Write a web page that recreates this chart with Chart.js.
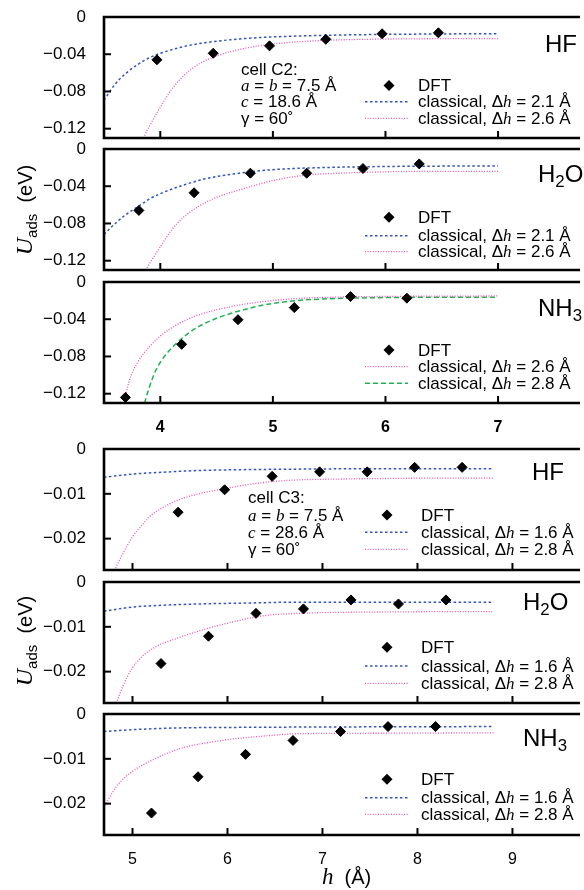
<!DOCTYPE html>
<html>
<head>
<meta charset="utf-8">
<script src="https://cdn.jsdelivr.net/npm/chart.js@4.4.1/dist/chart.umd.min.js"></script>
<style>
  body { margin: 0; background: #fff; }
  #fig { position: relative; width: 584px; height: 890px; overflow: hidden;
         font-family: "Liberation Sans", Arial, Helvetica, sans-serif; color: #000; }
  #fig canvas { position: absolute; left: 0; }
  .t { position: absolute; white-space: nowrap; line-height: 1; }
  .m { font-family: "Liberation Serif", "Times New Roman", serif; font-style: italic; }
  .sub { font-size: 0.7em; position: relative; top: 0.32em; }
</style>
</head>
<body>
<div id="fig"></div>
<script>
// axis ranges and ticks
const xRangeC2 = [3.5, 7.71];
const xRangeC3 = [4.7, 9.69];
const yRangeC2 = [-0.13, 0];
const yRangeC3 = [-0.027, 0];
const xTicksC2 = [4, 5, 6, 7];
const xTicksC3 = [5, 6, 7, 8, 9];
const yTicksC2 = [0, -0.04, -0.08, -0.12];
const yTicksC3 = [0, -0.01, -0.02];

// cell C2 -- DFT points
const hDftHF_C2 = [3.97, 4.47, 4.97, 5.47, 5.97, 6.47];
const uDftHF_C2 = [-0.046, -0.039, -0.031, -0.024, -0.018, -0.017];
const hDftH2O_C2 = [3.81, 4.30, 4.80, 5.30, 5.80, 6.30];
const uDftH2O_C2 = [-0.066, -0.047, -0.026, -0.026, -0.021, -0.016];
const hDftNH3_C2 = [3.69, 4.19, 4.69, 5.19, 5.69, 6.19];
const uDftNH3_C2 = [-0.124, -0.067, -0.0405, -0.0275, -0.0156, -0.0174];

// cell C2 -- classical curves
const hHF_C2_21 = [3.5, 3.6, 3.7, 3.8, 3.9, 4.0, 4.2, 4.4, 4.7, 5.0, 5.5, 6.0, 6.5, 7.0];
const uHF_C2_21 = [-0.0894, -0.072, -0.060, -0.051, -0.044, -0.039, -0.032, -0.0276, -0.0236, -0.0214, -0.0196, -0.0187, -0.0182, -0.018];
const hHF_C2_26 = [3.85, 3.9, 4.0, 4.1, 4.2, 4.35, 4.5, 4.7, 5.0, 5.5, 6.0, 6.5, 7.0];
const uHF_C2_26 = [-0.130, -0.118, -0.097, -0.078, -0.064, -0.050, -0.042, -0.035, -0.029, -0.025, -0.0237, -0.0233, -0.0232];
const hH2O_C2_21 = [3.5, 3.6, 3.7, 3.8, 3.9, 4.0, 4.2, 4.4, 4.7, 5.0, 5.5, 6.0, 6.5, 7.0];
const uH2O_C2_21 = [-0.0917, -0.080, -0.070, -0.062, -0.054, -0.048, -0.039, -0.032, -0.026, -0.0222, -0.0198, -0.0188, -0.0184, -0.0182];
const hH2O_C2_26 = [3.87, 3.9, 4.0, 4.1, 4.2, 4.35, 4.5, 4.7, 5.0, 5.3, 5.6, 6.0, 6.5, 7.0];
const uH2O_C2_26 = [-0.130, -0.124, -0.105, -0.087, -0.074, -0.061, -0.052, -0.044, -0.034, -0.028, -0.026, -0.0245, -0.024, -0.024];
const hNH3_C2_26 = [3.68, 3.72, 3.76, 3.8, 3.85, 3.9, 4.0, 4.17, 4.34, 4.63, 4.92, 5.21, 5.6, 6.0, 6.5, 7.0];
const uNH3_C2_26 = [-0.130, -0.108, -0.095, -0.086, -0.077, -0.070, -0.058, -0.0444, -0.0354, -0.0264, -0.021, -0.0178, -0.0162, -0.0155, -0.0152, -0.015];
const hNH3_C2_28 = [3.86, 3.9, 3.96, 4.03, 4.11, 4.19, 4.34, 4.5, 4.63, 4.8, 4.92, 5.21, 5.5, 6.0, 6.5, 7.0];
const uNH3_C2_28 = [-0.130, -0.114, -0.095, -0.081, -0.0698, -0.0607, -0.048, -0.039, -0.0336, -0.028, -0.0246, -0.020, -0.018, -0.0167, -0.0164, -0.0163];

// cell C3 -- DFT points
const hDftHF_C3 = [5.48, 5.97, 6.47, 6.97, 7.47, 7.97, 8.47];
const uDftHF_C3 = [-0.0141, -0.0091, -0.0061, -0.0051, -0.0051, -0.0041, -0.0041];
const hDftH2O_C3 = [5.30, 5.80, 6.30, 6.80, 7.30, 7.80, 8.30];
const uDftH2O_C3 = [-0.0182, -0.0121, -0.0070, -0.0060, -0.0040, -0.0049, -0.0040];
const hDftNH3_C3 = [5.20, 5.69, 6.19, 6.69, 7.19, 7.69, 8.19];
const uDftNH3_C3 = [-0.0221, -0.0140, -0.0090, -0.0059, -0.0039, -0.0028, -0.0028];

// cell C3 -- classical curves
const hHF_C3_16 = [4.7, 5.0, 5.3, 5.7, 6.2, 6.7, 7.5, 8.8];
const uHF_C3_16 = [-0.0063, -0.0056, -0.0052, -0.0048, -0.0046, -0.0045, -0.0044, -0.0044];
const hHF_C3_28 = [4.81, 4.9, 5.0, 5.1, 5.18, 5.3, 5.49, 5.7, 5.98, 6.2, 6.46, 6.74, 7.2, 7.57, 8.2, 8.8];
const uHF_C3_28 = [-0.0271, -0.0233, -0.0196, -0.0170, -0.0151, -0.0133, -0.0113, -0.0100, -0.0088, -0.0080, -0.0073, -0.0069, -0.0067, -0.0066, -0.0065, -0.0065];
const hH2O_C3_16 = [4.7, 5.0, 5.3, 5.7, 6.2, 6.74, 7.5, 8.8];
const uH2O_C3_16 = [-0.0065, -0.0056, -0.0052, -0.0049, -0.0047, -0.0045, -0.0045, -0.0045];
const hH2O_C3_28 = [4.83, 4.9, 5.0, 5.18, 5.49, 5.98, 6.39, 6.74, 7.57, 8.8];
const uH2O_C3_28 = [-0.027, -0.0232, -0.0191, -0.0153, -0.0124, -0.0093, -0.0075, -0.0070, -0.0067, -0.0066];
const hNH3_C3_16 = [4.7, 5.0, 5.5, 6.0, 7.0, 8.8];
const uNH3_C3_16 = [-0.0039, -0.0035, -0.0031, -0.0030, -0.0029, -0.0028];
const hNH3_C3_28 = [4.71, 4.83, 5.0, 5.18, 5.49, 5.98, 6.39, 6.74, 7.5, 8.8];
const uNH3_C3_28 = [-0.0204, -0.0162, -0.0128, -0.0106, -0.0078, -0.0058, -0.0049, -0.0044, -0.0043, -0.0042];

const W = 584, PAD_TOP = 12, PANEL_H = 121, AXIS_W = 104;
const SANS = '"Liberation Sans", Arial, Helvetica, sans-serif';
const BLUE = 'rgb(52, 84, 186)', PINK = 'rgb(232, 84, 180)', GREEN = 'rgb(34, 178, 84)';
const LINE = {
  blue: { color: BLUE, dash: [2.5, 2.5], width: 1.5 },
  pink: { color: PINK, dash: [1, 1.6], width: 1.3 },
  green: { color: GREEN, dash: [5, 3], width: 1.5 },
};
const KEY_FONT = 17;

const fig = document.getElementById('fig');

function pts(h, u) {
  return h.map((x, i) => ({ x: x, y: u[i] }));
}

function fmtTick(v) {
  return v === 0 ? '0' : '\u2212' + Math.abs(v).toFixed(2);
}

function text(html, x, y, size, cls) {
  const d = document.createElement('div');
  d.className = 't' + (cls ? ' ' + cls : '');
  d.style.left = x + 'px';
  d.style.top = (y - size * 0.5) + 'px';
  d.style.fontSize = size + 'px';
  d.innerHTML = html;
  fig.appendChild(d);
  return d;
}

// frame with inward tick marks (no right border, the plot runs off the page)
const framePlugin = {
  id: 'frame',
  afterDraw(chart) {
    const { ctx, chartArea: a, scales: { x, y } } = chart;
    ctx.save();
    ctx.strokeStyle = '#000';
    ctx.lineWidth = 2;
    x.ticks.forEach(t => {
      const px = x.getPixelForValue(t.value);
      ctx.beginPath();
      ctx.moveTo(px, a.bottom);
      ctx.lineTo(px, a.bottom - 7);
      ctx.stroke();
    });
    y.ticks.forEach(t => {
      if (t.value === 0) return;
      const py = y.getPixelForValue(t.value);
      ctx.beginPath();
      ctx.moveTo(a.left, py);
      ctx.lineTo(a.left + 7, py);
      ctx.stroke();
    });
    ctx.lineWidth = 2.6;
    ctx.beginPath();
    ctx.moveTo(a.right + 2, a.top);
    ctx.lineTo(a.left, a.top);
    ctx.lineTo(a.left, a.bottom);
    ctx.lineTo(a.right + 2, a.bottom);
    ctx.stroke();
    ctx.restore();
  }
};

// legend symbols, one row per dataset
const keyPlugin = {
  id: 'keys',
  afterDraw(chart, args, opts) {
    const ctx = chart.ctx;
    chart.data.datasets.forEach((ds, i) => {
      const y = opts.rows[i];
      ctx.save();
      if (ds.showLine === false) {
        const r = ds.pointRadius + 0.5;
        ctx.fillStyle = ds.backgroundColor;
        ctx.beginPath();
        ctx.moveTo(opts.xd - r, y);
        ctx.lineTo(opts.xd, y - r);
        ctx.lineTo(opts.xd + r, y);
        ctx.lineTo(opts.xd, y + r);
        ctx.closePath();
        ctx.fill();
      } else {
        ctx.strokeStyle = ds.borderColor;
        ctx.lineWidth = ds.borderWidth;
        ctx.setLineDash(ds.borderDash);
        ctx.beginPath();
        ctx.moveTo(opts.x0, y);
        ctx.lineTo(opts.x1, y);
        ctx.stroke();
      }
      ctx.restore();
    });
  }
};

function makePanel(p) {
  const bottom = p.showX ? 44 : 12;
  const canvasTop = p.top - PAD_TOP;
  const canvas = document.createElement('canvas');
  canvas.width = W;
  canvas.height = PAD_TOP + PANEL_H + bottom;
  canvas.style.top = canvasTop + 'px';
  fig.appendChild(canvas);

  const datasets = [{
    data: pts(p.dftH, p.dftU),
    showLine: false,
    pointStyle: 'rectRot',
    pointRadius: 5,
    pointBorderWidth: 1,
    backgroundColor: '#000',
    borderColor: '#000',
  }];
  p.curves.forEach(c => {
    const s = LINE[c.style];
    datasets.push({
      data: pts(c.h, c.u),
      borderColor: s.color,
      borderWidth: s.width,
      borderDash: s.dash,
      pointRadius: 0,
      cubicInterpolationMode: 'monotone',
      fill: false,
      clip: 0,
    });
  });

  new Chart(canvas, {
    type: 'line',
    data: { datasets: datasets },
    options: {
      responsive: false,
      animation: false,
      events: [],
      layout: { padding: { top: PAD_TOP, left: 0, right: 0, bottom: 0 } },
      plugins: {
        legend: { display: false },
        tooltip: { enabled: false },
        keys: {
          xd: p.key.xd, x0: p.key.x0, x1: p.key.x1,
          rows: p.key.rows.map(r => r - canvasTop),
        },
      },
      scales: {
        x: {
          type: 'linear',
          min: p.xRange[0], max: p.xRange[1],
          grid: { display: false },
          border: { display: false },
          afterBuildTicks: s => { s.ticks = p.xTicks.map(v => ({ value: v })); },
          afterFit: s => { s.height = bottom; s.paddingLeft = 0; s.paddingRight = 0; },
          ticks: {
            display: p.showX,
            padding: 7,
            color: '#000',
            font: { family: SANS, size: 16, weight: p.boldX ? 'bold' : 'normal' },
          },
        },
        y: {
          min: p.yRange[0], max: p.yRange[1],
          grid: { display: false },
          border: { display: false },
          afterBuildTicks: s => { s.ticks = p.yTicks.map(v => ({ value: v })); },
          afterFit: s => { s.width = AXIS_W; s.paddingTop = 0; s.paddingBottom = 0; },
          ticks: {
            padding: 10,
            color: '#000',
            font: { family: SANS, size: 17 },
            callback: fmtTick,
          },
        },
      },
    },
    plugins: [framePlugin, keyPlugin],
  });

  // legend labels
  const dh = '\u0394<span class="m">h</span>';
  text('DFT', p.key.tx, p.key.rows[0], KEY_FONT);
  p.curves.forEach((c, i) => {
    text('classical, ' + dh + ' = ' + c.dh + ' \u00c5', p.key.tx, p.key.rows[i + 1], KEY_FONT);
  });
  text(p.name, p.nameX, p.nameY, 24);
}

const keyC2 = { xd: 389, x0: 365, x1: 408, tx: 418 };
const keyC3 = { xd: 387, x0: 365, x1: 409, tx: 421 };

const panels = [
  { top: 17, name: 'HF', nameX: 545, nameY: 44, dftH: hDftHF_C2, dftU: uDftHF_C2,
    curves: [{ h: hHF_C2_21, u: uHF_C2_21, style: 'blue', dh: '2.1' },
             { h: hHF_C2_26, u: uHF_C2_26, style: 'pink', dh: '2.6' }],
    key: Object.assign({ rows: [85.5, 101.7, 118.3] }, keyC2) },
  { top: 149, name: 'H<span class="sub">2</span>O', nameX: 538, nameY: 174, dftH: hDftH2O_C2, dftU: uDftH2O_C2,
    curves: [{ h: hH2O_C2_21, u: uH2O_C2_21, style: 'blue', dh: '2.1' },
             { h: hH2O_C2_26, u: uH2O_C2_26, style: 'pink', dh: '2.6' }],
    key: Object.assign({ rows: [217.3, 235.7, 251.7] }, keyC2) },
  { top: 282, name: 'NH<span class="sub">3</span>', nameX: 538, nameY: 307.5, dftH: hDftNH3_C2, dftU: uDftNH3_C2,
    curves: [{ h: hNH3_C2_26, u: uNH3_C2_26, style: 'pink', dh: '2.6' },
             { h: hNH3_C2_28, u: uNH3_C2_28, style: 'green', dh: '2.8' }],
    key: Object.assign({ rows: [350, 366.7, 383.3] }, keyC2), showX: true, boldX: true },
  { top: 449, name: 'HF', nameX: 532, nameY: 472, dftH: hDftHF_C3, dftU: uDftHF_C3,
    curves: [{ h: hHF_C3_16, u: uHF_C3_16, style: 'blue', dh: '1.6' },
             { h: hHF_C3_28, u: uHF_C3_28, style: 'pink', dh: '2.8' }],
    key: Object.assign({ rows: [515, 532.3, 549.3] }, keyC3) },
  { top: 582, name: 'H<span class="sub">2</span>O', nameX: 523, nameY: 602, dftH: hDftH2O_C3, dftU: uDftH2O_C3,
    curves: [{ h: hH2O_C3_16, u: uH2O_C3_16, style: 'blue', dh: '1.6' },
             { h: hH2O_C3_28, u: uH2O_C3_28, style: 'pink', dh: '2.8' }],
    key: Object.assign({ rows: [647.3, 666, 683.3] }, keyC3) },
  { top: 714, name: 'NH<span class="sub">3</span>', nameX: 523, nameY: 738, dftH: hDftNH3_C3, dftU: uDftNH3_C3,
    curves: [{ h: hNH3_C3_16, u: uNH3_C3_16, style: 'blue', dh: '1.6' },
             { h: hNH3_C3_28, u: uNH3_C3_28, style: 'pink', dh: '2.8' }],
    key: Object.assign({ rows: [779.3, 797.7, 814.3] }, keyC3), showX: true },
];

panels.forEach((p, i) => {
  const c2 = i < 3;
  p.xRange = c2 ? xRangeC2 : xRangeC3;
  p.yRange = c2 ? yRangeC2 : yRangeC3;
  p.xTicks = c2 ? xTicksC2 : xTicksC3;
  p.yTicks = c2 ? yTicksC2 : yTicksC3;
  makePanel(p);
});

// cell annotations
const ab = '<span class="m">a</span> = <span class="m">b</span> = 7.5 \u00c5';
text('cell C2:', 241, 69, KEY_FONT);
text(ab, 241, 85.5, KEY_FONT);
text('<span class="m">c</span> = 18.6 \u00c5', 241, 101.7, KEY_FONT);
text('\u03b3 = 60\u02da', 241, 118.3, KEY_FONT);
text('cell C3:', 248, 497.3, KEY_FONT);
text(ab, 248, 515, KEY_FONT);
text('<span class="m">c</span> = 28.6 \u00c5', 248, 532.3, KEY_FONT);
text('\u03b3 = 60\u02da', 248, 549.3, KEY_FONT);

// axis titles
const yTitle = '<span class="m" style="font-size:24px">U</span><span class="sub" style="font-size:15px">ads</span>&nbsp;&nbsp;(eV)';
[208, 639].forEach(cy => {
  const d = text(yTitle, 24, cy, 20);
  d.style.transform = 'translate(-50%, 0) rotate(-90deg)';
  d.style.transformOrigin = '50% 50%';
});
text('<span class="m" style="font-size:23px">h</span>&nbsp;&nbsp;(\u00c5)', 322, 875, 20);
</script>
</body>
</html>
